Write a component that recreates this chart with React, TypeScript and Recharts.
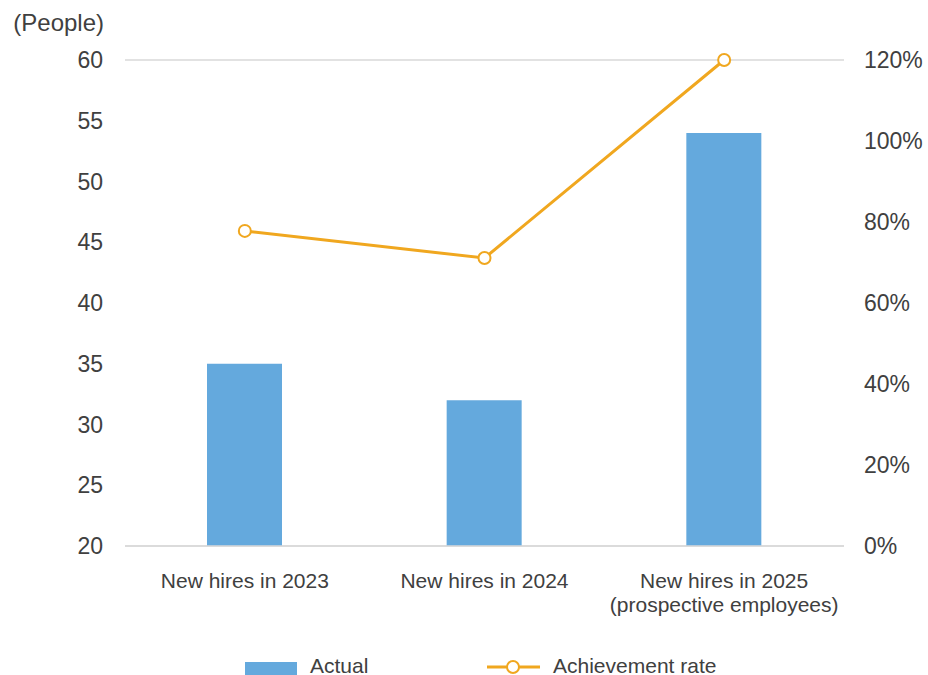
import React from 'react';
import { ComposedChart, Bar, Line, XAxis, YAxis, CartesianGrid, Legend } from 'recharts';

const categories = ['New hires in 2023', 'New hires in 2024', 'New hires in 2025\n(prospective employees)'];
const actual = [35, 32, 54];
const achievementRate = [77.8, 71.1, 120];
const leftTicks = [20, 25, 30, 35, 40, 45, 50, 55, 60];
const rightTicks = [0, 20, 40, 60, 80, 100, 120];

const data = categories.map((c, i) => ({ name: c, actual: actual[i], rate: achievementRate[i] }));

const FONT = '"Liberation Sans", Arial, sans-serif';
const TEXT = '#404040';
const BAR = '#64A9DD';
const LINE = '#F0A71F';
const FS = 21;
const FS_Y = 23;

const XTick = (props: any) => {
  const { x, y, payload } = props;
  const lines = String(payload.value).split('\n');
  return (
    <text x={x} y={y} textAnchor="middle" fill={TEXT} fontSize={FS} fontFamily={FONT}>
      {lines.map((l, i) => (
        <tspan key={i} x={x} dy={i === 0 ? 42 : 24}>{l}</tspan>
      ))}
    </text>
  );
};

const PeopleLabel = (props: any) => {
  const vb = props.viewBox || { x: 0, y: 60, width: 125 };
  return (
    <text x={vb.x + vb.width - 21} y={vb.y - 29} textAnchor="end" fill={TEXT} fontSize={24} fontFamily={FONT}>
      (People)
    </text>
  );
};

const LegendContent = () => (
  <svg width={928} height={24} style={{ display: 'block' }}>
    <rect x={245} y={7} width={52} height={13} fill={BAR} />
    <text x={310} y={18} fill={TEXT} fontSize={FS} fontFamily={FONT}>Actual</text>
    <line x1={487} y1={12} x2={540} y2={12} stroke={LINE} strokeWidth={3} />
    <circle cx={513} cy={12} r={6} fill="#fff" stroke={LINE} strokeWidth={2} />
    <text x={553} y={18} fill={TEXT} fontSize={FS} fontFamily={FONT}>Achievement rate</text>
  </svg>
);

export default function App() {
  return (
    <div style={{ position: 'absolute', left: 0, top: 0, width: 928, height: 675, background: '#fff', fontFamily: FONT }}>
      <ComposedChart width={928} height={675} data={data} margin={{ top: 60, right: 0, left: 0, bottom: 45 }}>
        <CartesianGrid vertical={false} stroke="#d9d9d9" strokeWidth={1.5} />
        <XAxis
          dataKey="name"
          height={60}
          tickLine={false}
          tickSize={0}
          tickMargin={0}
          axisLine={{ stroke: '#d9d9d9', strokeWidth: 1.5 }}
          tick={<XTick />}
          interval={0}
        />
        <YAxis
          yAxisId="left"
          orientation="left"
          width={125}
          domain={[20, 60]}
          ticks={leftTicks}
          tickLine={false}
          axisLine={false}
          tickSize={0}
          tickMargin={22}
          tick={{ fontSize: FS_Y, fill: TEXT, fontFamily: FONT }}
          label={<PeopleLabel />}
        />
        <YAxis
          yAxisId="right"
          orientation="right"
          width={84}
          domain={[0, 120]}
          ticks={rightTicks}
          tickFormatter={(v: number) => `${v}%`}
          tickLine={false}
          axisLine={false}
          tickSize={0}
          tickMargin={20}
          tick={{ fontSize: FS_Y, fill: TEXT, fontFamily: FONT }}
        />
        <Legend verticalAlign="bottom" height={24} wrapperStyle={{ top: 655, left: 0, width: 928 }} content={<LegendContent />} />
        <Bar yAxisId="left" dataKey="actual" name="Actual" fill={BAR} barSize={75} isAnimationActive={false} />
        <Line
          yAxisId="right"
          dataKey="rate"
          name="Achievement rate"
          stroke={LINE}
          strokeWidth={3}
          dot={{ r: 6, fill: '#fff', stroke: LINE, strokeWidth: 2 }}
          activeDot={false}
          isAnimationActive={false}
        />
      </ComposedChart>
    </div>
  );
}
